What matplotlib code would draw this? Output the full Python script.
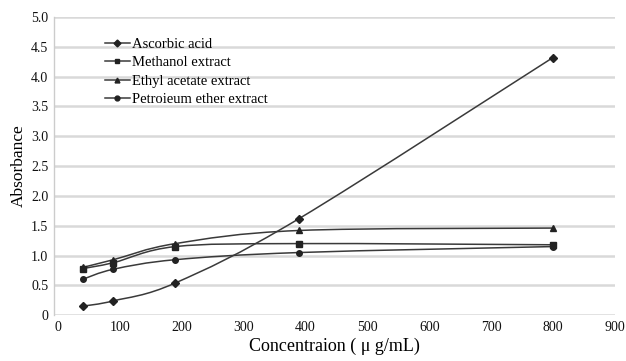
import matplotlib.pyplot as plt
from matplotlib.path import Path
from matplotlib.patches import PathPatch
from matplotlib.lines import Line2D
import numpy as np

# concentrations (ug/mL) and absorbance
conc = [40, 90, 190, 390, 800]
ascorbic = [0.15, 0.24, 0.54, 1.62, 4.32]
methanol = [0.78, 0.88, 1.15, 1.20, 1.18]
ethyl = [0.80, 0.93, 1.20, 1.42, 1.46]
petroleum = [0.60, 0.77, 0.93, 1.05, 1.15]

names = ["Ascorbic acid", "Methanol extract", "Ethyl acetate extract",
         "Petroieum ether extract"]
series = [ascorbic, methanol, ethyl, petroleum]
markers = ["D", "s", "^", "o"]

xticks = [0, 100, 200, 300, 400, 500, 600, 700, 800, 900]
yticks = [0, 0.5, 1.0, 1.5, 2.0, 2.5, 3.0, 3.5, 4.0, 4.5, 5.0]
ylabels = ["0", "0.5", "1.0", "1.5", "2.0", "2.5", "3.0", "3.5", "4.0", "4.5", "5.0"]

plt.rcParams['font.family'] = ['Liberation Serif', 'DejaVu Serif']

fig = plt.figure(figsize=(6.26, 3.61), dpi=100)
ax = fig.add_axes([0.0863, 0.127, 0.896, 0.826])


def smooth_path(xs, ys):
    # excel-like smoothed line as bezier segments in data coords
    p = np.column_stack([xs, ys]).astype(float)
    n = len(p)
    verts = [p[0]]
    codes = [Path.MOVETO]
    for i in range(n - 1):
        p0 = p[i - 1] if i > 0 else p[i]
        p3 = p[i + 2] if i + 2 < n else p[i + 1]
        c1 = p[i] + (p[i + 1] - p0) / 6.0
        c2 = p[i + 1] - (p3 - p[i]) / 6.0
        verts += [c1, c2, p[i + 1]]
        codes += [Path.CURVE4] * 3
    return Path(verts, codes)


line_col = "#3a3a3a"
handles = []
for ys, mk, name in zip(series, markers, names):
    patch = PathPatch(smooth_path(conc, ys), facecolor="none",
                      edgecolor=line_col, lw=1.1, zorder=3)
    ax.add_patch(patch)
    ax.plot(conc, ys, linestyle="none", marker=mk, ms=4,
            color="#222222", zorder=4)
    handles.append(Line2D([], [], color=line_col, lw=1.1, marker=mk,
                          ms=3.5, markerfacecolor="#222222",
                          markeredgecolor="#222222"))

ax.set_xlim(-6, 900)
ax.set_ylim(0, 5.0)
ax.set_xticks(xticks)
ax.set_yticks(yticks)
ax.set_yticklabels(ylabels)
ax.tick_params(length=0, labelsize=10, colors="#111111", pad=4)
ax.yaxis.grid(True, color="#d9d9d9", lw=1.8)
ax.set_axisbelow(True)
for s in ["top", "right", "bottom"]:
    ax.spines[s].set_visible(False)
ax.spines["left"].set_color("#cccccc")
ax.spines["left"].set_linewidth(1.0)

ax.set_ylabel("Absorbance", fontsize=12.5, labelpad=3)
ax.set_xlabel("Concentraion ( μ g/mL)", fontsize=13, labelpad=3)

leg = ax.legend(handles, names, loc="upper left",
                bbox_to_anchor=(0.08, 0.95), frameon=False,
                fontsize=10.5, handlelength=1.75, handletextpad=0.15,
                labelspacing=0.36, borderaxespad=0)

fig.savefig("out.png", dpi=100)
